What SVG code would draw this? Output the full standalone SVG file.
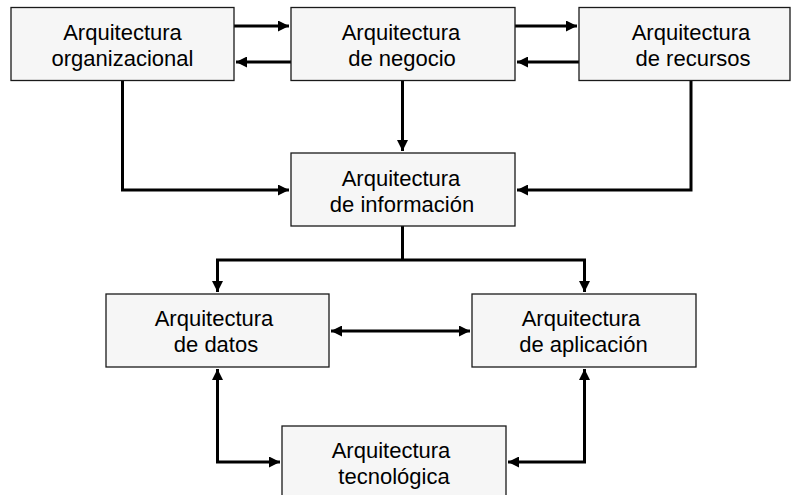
<svg xmlns="http://www.w3.org/2000/svg" width="791" height="495" viewBox="0 0 791 495">
<style>
.box{fill:#f6f6f6;stroke:#1a1a1a;stroke-width:1.3}
.t{font-family:"Liberation Sans",Arial,sans-serif;font-size:22px;fill:#000;text-anchor:middle}
.c{fill:none;stroke:#000;stroke-width:3}
</style>
<defs>
<marker id="ah" markerUnits="userSpaceOnUse" markerWidth="11" markerHeight="11" refX="10" refY="5" orient="auto-start-reverse" viewBox="0 0 10 10">
<path d="M0,0 L10,5 L0,10 z" fill="#000"/>
</marker>
</defs>
<rect width="791" height="495" fill="#fff"/>
<g id="connectors">
<path class="c" d="M234,26 H289" marker-end="url(#ah)"/>
<path class="c" d="M291,62 H236" marker-end="url(#ah)"/>
<path class="c" d="M515,26 H577" marker-end="url(#ah)"/>
<path class="c" d="M579,62 H517" marker-end="url(#ah)"/>
<path class="c" d="M122.5,80 V190 H289" marker-end="url(#ah)"/>
<path class="c" d="M402.5,80 V151" marker-end="url(#ah)"/>
<path class="c" d="M691,80 V190 H517" marker-end="url(#ah)"/>
<path class="c" d="M402.5,226 V260"/>
<path class="c" d="M217.5,292 V260 H584.5 V292" marker-start="url(#ah)" marker-end="url(#ah)"/>
<path class="c" d="M331,331 H470" marker-start="url(#ah)" marker-end="url(#ah)"/>
<path class="c" d="M217.5,369 V462 H280" marker-start="url(#ah)" marker-end="url(#ah)"/>
<path class="c" d="M584.5,369 V462 H508" marker-start="url(#ah)" marker-end="url(#ah)"/>
</g>
<g id="n-organizacional">
<rect class="box" x="11" y="7.5" width="223" height="73"/>
<text class="t" x="122.5" y="40">Arquitectura</text>
<text class="t" x="122.5" y="66">organizacional</text>
</g>
<g id="n-negocio">
<rect class="box" x="291" y="7.5" width="224" height="73"/>
<text class="t" x="401" y="40">Arquitectura</text>
<text class="t" x="402" y="66">de negocio</text>
</g>
<g id="n-recursos">
<rect class="box" x="579" y="7.5" width="211" height="73"/>
<text class="t" x="691" y="40">Arquitectura</text>
<text class="t" x="693" y="66">de recursos</text>
</g>
<g id="n-informacion">
<rect class="box" x="291" y="153" width="224" height="73"/>
<text class="t" x="401" y="185.7">Arquitectura</text>
<text class="t" x="402" y="212">de información</text>
</g>
<g id="n-datos">
<rect class="box" x="106" y="294" width="223" height="73"/>
<text class="t" x="214" y="326">Arquitectura</text>
<text class="t" x="216" y="352">de datos</text>
</g>
<g id="n-aplicacion">
<rect class="box" x="472" y="294" width="224" height="73"/>
<text class="t" x="581" y="326">Arquitectura</text>
<text class="t" x="583.5" y="352">de aplicación</text>
</g>
<g id="n-tecnologica">
<rect class="box" x="282" y="426" width="224" height="73"/>
<text class="t" x="391" y="457.5">Arquitectura</text>
<text class="t" x="394" y="484">tecnológica</text>
</g>
</svg>
